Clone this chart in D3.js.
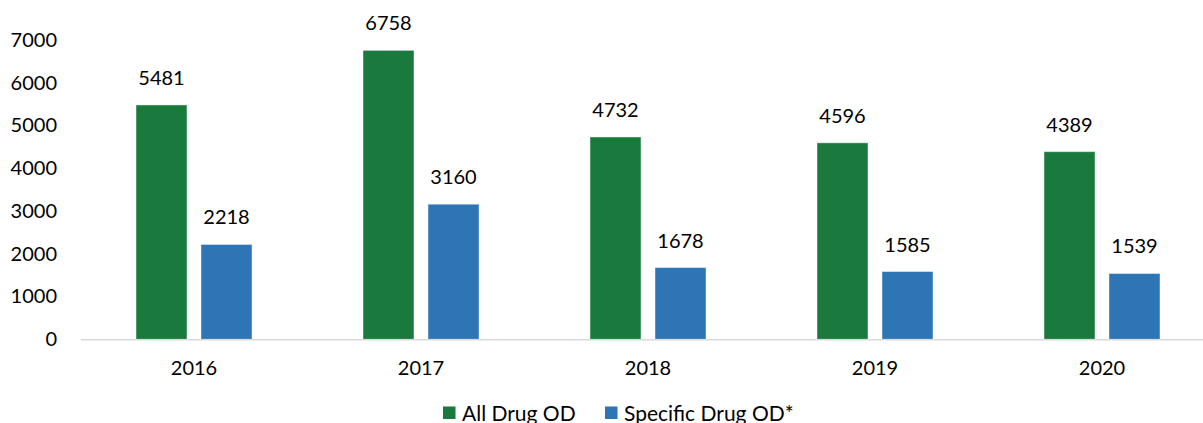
<!DOCTYPE html>
<html>
<head>
<meta charset="utf-8">
<script src="https://cdn.jsdelivr.net/npm/d3@7"></script>
<style>
  html, body { margin: 0; padding: 0; background: #fff; }
  svg { display: block; font-family: Lato, "Open Sans", sans-serif; }
</style>
</head>
<body>
<svg id="chart" width="1203" height="423"></svg>
<script>
// Overdose counts by year
const years = ["2016", "2017", "2018", "2019", "2020"];
const seriesNames = ["All Drug OD", "Specific Drug OD*"];
const allDrugOD = [5481, 6758, 4732, 4596, 4389];
const specificDrugOD = [2218, 3160, 1678, 1585, 1539];
const yTicks = [0, 1000, 2000, 3000, 4000, 5000, 6000, 7000];
const colors = ["#1a7a3e", "#2e75b6"];

const seriesValues = [allDrugOD, specificDrugOD];
const rows = years.map((y, i) => ({
  year: y,
  values: seriesNames.map((s, k) => ({ series: s, k, value: seriesValues[k][i] }))
}));

const svg = d3.select("#chart");
const fontSize = 20;

const x0 = d3.scaleBand().domain(years).range([80.5, 1215.5]).padding(0);
const groupWidth = 116;
const x1 = d3.scaleBand().domain(seriesNames).range([0, groupWidth]).paddingInner(14 / 65);
const y = d3.scaleLinear().domain([0, 7000]).range([339.3, 40]);

// y axis labels (no axis line, no ticks)
const yAxis = d3.axisLeft(y).tickValues(yTicks).tickSize(0).tickPadding(0).tickFormat(d3.format("d"));
const gy = svg.append("g").attr("transform", "translate(57,0)").call(yAxis);
gy.select(".domain").remove();
gy.selectAll("text").attr("font-size", fontSize).attr("font-family", "Lato, sans-serif").attr("fill", "#000");

// bars
const groups = svg.append("g").selectAll("g").data(rows).join("g")
  .attr("transform", d => `translate(${x0(d.year) + (x0.bandwidth() - groupWidth) / 2},0)`);

groups.selectAll("rect").data(d => d.values).join("rect")
  .attr("x", d => x1(d.series))
  .attr("y", d => y(d.value))
  .attr("width", x1.bandwidth())
  .attr("height", d => y(0) - y(d.value))
  .attr("fill", d => colors[d.k])
  .attr("stroke", "rgba(255,255,255,0.45)")
  .attr("stroke-width", 1);

groups.selectAll("text.val").data(d => d.values).join("text")
  .attr("class", "val")
  .attr("x", d => x1(d.series) + x1.bandwidth() / 2)
  .attr("y", d => y(d.value) - 20)
  .attr("text-anchor", "middle")
  .attr("font-size", fontSize)
  .attr("fill", "#000")
  .text(d => d.value);

// x axis baseline and labels
const xAxis = d3.axisBottom(x0).tickSize(0).tickPadding(22);
const gx = svg.append("g").attr("transform", `translate(0,${y(0)})`).call(xAxis);
gx.select(".domain").attr("stroke", "#d9d9d9").attr("stroke-width", 1.5);
gx.selectAll("text").attr("font-size", fontSize).attr("font-family", "Lato, sans-serif").attr("fill", "#000");

// legend
const legendItems = [{ name: seriesNames[0], x: 443 }, { name: seriesNames[1], x: 605 }];
const lg = svg.append("g").selectAll("g").data(legendItems).join("g")
  .attr("transform", d => `translate(${d.x},406.5)`);
lg.append("rect").attr("width", 12.5).attr("height", 12.5).attr("fill", (d, i) => colors[i]);
lg.append("text").attr("x", 19).attr("y", 14).attr("font-size", fontSize + 1).attr("fill", "#000").text(d => d.name);
</script>
</body>
</html>
